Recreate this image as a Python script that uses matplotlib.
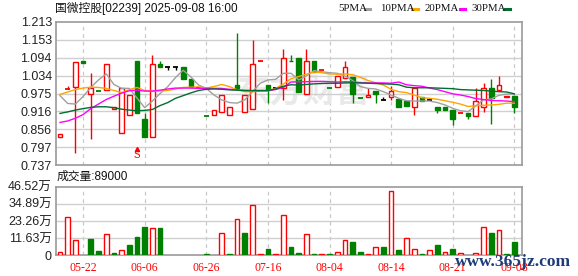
import matplotlib
matplotlib.use('Agg')
import matplotlib.pyplot as plt
from matplotlib.patches import Rectangle
from matplotlib.lines import Line2D

plt.rcParams['font.family'] = ['Liberation Sans', 'Noto Sans CJK SC', 'DejaVu Sans']

# daily candles, oldest first (60 trading days)
opens = [0.832, 0.990, 0.996, 1.083, 0.973, 0.984, 0.985, 0.924, 0.843, 0.904,
         1.083, 0.891, 0.832, 1.074, 1.062, 1.062, 1.063, 1.022, 0.992, 0.900,
         0.903, 0.914, 0.904, 1.002, 0.913, 0.922, 1.082, 1.002, 0.992, 0.992,
         1.084, 1.092, 0.972, 1.083, 1.052, 0.992, 0.995, 1.025, 1.030, 0.959,
         0.962, 0.983, 0.953, 0.962, 0.958, 0.951, 0.931, 0.962, 0.953, 0.929,
         0.929, 0.920, 0.909, 0.909, 0.902, 0.930, 0.992, 0.986, 0.962, 0.968]
highs = [0.840, 1.001, 1.081, 1.083, 1.043, 0.984, 1.073, 0.930, 0.993, 0.970,
         1.083, 0.910, 1.103, 1.082, 1.062, 1.062, 1.063, 1.022, 0.992, 0.900,
         0.919, 0.969, 0.929, 1.174, 0.969, 1.152, 1.082, 1.002, 0.992, 1.122,
         1.103, 1.092, 1.121, 1.083, 1.052, 0.992, 1.033, 1.082, 1.030, 0.959,
         0.992, 0.983, 0.964, 1.001, 0.958, 0.951, 0.992, 0.962, 0.953, 0.929,
         0.929, 0.920, 0.909, 0.909, 0.992, 1.010, 1.022, 1.033, 0.968, 0.968]
lows = [0.832, 0.990, 0.779, 1.075, 0.823, 0.984, 0.985, 0.924, 0.843, 0.904,
        0.912, 0.832, 0.832, 1.062, 1.053, 1.053, 1.023, 0.997, 0.992, 0.900,
        0.903, 0.914, 0.904, 0.994, 0.913, 0.922, 1.082, 0.942, 0.992, 0.954,
        1.083, 0.980, 0.972, 1.047, 1.052, 0.992, 0.995, 1.025, 0.943, 0.959,
        0.962, 0.943, 0.953, 0.954, 0.930, 0.932, 0.903, 0.951, 0.953, 0.912,
        0.921, 0.871, 0.909, 0.892, 0.902, 0.915, 0.873, 0.986, 0.962, 0.912]
closes = [0.840, 0.990, 1.081, 1.075, 0.994, 0.984, 1.073, 0.930, 0.993, 0.970,
          0.912, 0.832, 1.072, 1.062, 1.062, 1.062, 1.023, 0.997, 0.992, 0.900,
          0.919, 0.969, 0.929, 0.994, 0.969, 1.072, 1.082, 0.991, 0.992, 1.092,
          1.083, 0.980, 1.083, 1.047, 1.052, 0.992, 1.033, 1.062, 0.973, 0.959,
          0.969, 0.972, 0.953, 0.983, 0.930, 0.932, 0.992, 0.951, 0.953, 0.919,
          0.921, 0.892, 0.909, 0.902, 0.950, 0.992, 0.961, 1.002, 0.968, 0.931]
# volume in 万 shares
volumes = [2.0, 25.9, 10.7, 0, 10.9, 2.7, 14.3, 1.6, 3.4, 6.8,
           12.2, 19.0, 18.4, 18.4, 0, 0, 0, 0, 0, 0.7,
           0, 15.4, 0.7, 24.3, 15.4, 33.8, 0.7, 4.5, 0.7, 27.2,
           5.4, 1.4, 14.7, 0.7, 0.7, 0.7, 2.0, 10.7, 8.8, 2.0,
           0.7, 5.9, 5.4, 43.3, 3.4, 12.0, 4.5, 0.7, 3.9, 6.8,
           2.0, 4.1, 1.4, 0, 1.4, 19.0, 15.2, 17.0, 0.7, 8.9]
flat_days = [14, 15, 18, 28, 42, 48]  # drawn black

ma5 = [0.968, 0.942, 0.940, 0.965, 0.995, 1.020, 1.040, 1.005, 0.992, 0.992,
       0.960, 0.928, 0.950, 0.975, 0.998, 1.028, 1.052, 1.030, 1.003, 0.992,
       0.970, 0.954, 0.945, 0.943, 0.954, 0.981, 1.009, 1.020, 1.022, 1.042,
       1.042, 1.020, 1.033, 1.051, 1.047, 1.044, 1.042, 1.033, 1.018, 0.998,
       0.992, 0.990, 0.981, 0.970, 0.959, 0.951, 0.950, 0.950, 0.950, 0.945,
       0.937, 0.926, 0.918, 0.915, 0.934, 0.954, 0.957, 0.969, 0.973, 0.973]
ma10 = [0.972, 0.980, 0.988, 0.993, 0.996, 0.995, 0.992, 0.985, 0.978, 0.988,
        0.995, 0.985, 0.983, 0.984, 0.985, 0.990, 0.995, 0.996, 0.997, 0.993,
        0.998, 1.005, 0.998, 0.987, 0.981, 0.981, 0.983, 0.984, 0.992, 1.006,
        1.024, 1.031, 1.039, 1.046, 1.044, 1.040, 1.039, 1.040, 1.037, 1.029,
        1.018, 1.011, 1.003, 0.989, 0.981, 0.978, 0.970, 0.961, 0.959, 0.956,
        0.951, 0.946, 0.940, 0.932, 0.934, 0.936, 0.937, 0.939, 0.943, 0.943]
ma20 = [0.879, 0.884, 0.893, 0.905, 0.925, 0.940, 0.955, 0.966, 0.976, 0.984,
        0.986, 0.983, 0.983, 0.986, 0.990, 0.993, 0.993, 0.993, 0.992, 0.992,
        0.992, 0.992, 0.989, 0.987, 0.985, 0.984, 0.984, 0.984, 0.988, 0.995,
        1.013, 1.014, 1.014, 1.015, 1.015, 1.014, 1.013, 1.014, 1.013, 1.011,
        1.010, 1.010, 1.010, 1.009, 1.013, 1.004, 1.001, 0.999, 0.993, 0.988,
        0.981, 0.974, 0.970, 0.965, 0.958, 0.955, 0.952, 0.951, 0.950, 0.948]
ma30 = [0.909, 0.914, 0.920, 0.925, 0.929, 0.931, 0.931, 0.928, 0.923, 0.920,
        0.918, 0.919, 0.922, 0.935, 0.945, 0.959, 0.968, 0.977, 0.985, 0.989,
        0.990, 0.989, 0.987, 0.986, 0.985, 0.985, 0.985, 0.985, 0.990, 0.999,
        1.004, 1.003, 1.005, 1.007, 1.008, 1.009, 1.009, 1.010, 1.011, 1.010,
        1.009, 1.008, 1.007, 1.006, 1.004, 0.996, 0.994, 0.994, 0.994, 0.993,
        0.992, 0.991, 0.988, 0.987, 0.986, 0.985, 0.983, 0.981, 0.980, 0.974]

date_idx = [3, 11, 19, 27, 35, 43, 51, 59]
date_labels = ['05-22', '06-06', '06-26', '07-16', '08-04', '08-14', '08-21', '09-08']
price_ticks = [0.737, 0.797, 0.856, 0.916, 0.975, 1.034, 1.094, 1.153, 1.213]
price_labels = ['0.737', '0.797', '0.856', '0.916', '0.975', '1.034', '1.094', '1.153', '1.213']
vol_ticks = [0, 11.63, 23.26, 34.89, 46.52]
vol_labels = ['0', '11.63万', '23.26万', '34.89万', '46.52万']
signal_day = 10

RED = '#ff0000'
GREEN = '#008000'
BLACK = '#000000'
W, H = 578.0, 276.0

fig = plt.figure(figsize=(5.78, 2.76), dpi=100)
ax1 = fig.add_axes([56 / W, 1 - 165.3 / H, 466 / W, 143.6 / H])
ax2 = fig.add_axes([56 / W, 1 - 255.3 / H, 466 / W, 68.6 / H])

n = len(closes)
for ax in (ax1, ax2):
    ax.set_xlim(-0.52, 60.0)
    for s in ax.spines.values():
        s.set_color('#9a9a9a')
        s.set_linewidth(1.2)
    ax.tick_params(length=0, labelsize=9, colors='#222222')
    for d in date_idx:
        ax.axvline(d, color='#c8c8c8', lw=0.9, ls=(0, (3, 3)), zorder=0)

# faint watermark
ax1.text(0.53, 0.5, '东方财富', transform=ax1.transAxes, fontsize=24,
         color='#e9e9e9', ha='center', va='center', zorder=0,
         family=['Noto Sans CJK SC'], fontweight='bold')

# price panel
ax1.set_ylim(0.737, 1.213)
ax1.set_yticks(price_ticks)
ax1.set_yticklabels(price_labels)
ax1.set_xticks([])
ax1.tick_params(axis='y', pad=3)
for t in price_ticks[1:-1]:
    ax1.axhline(t, color='#d0d0d0', lw=1, zorder=0)

for i in range(n):
    o, h, l, c = opens[i], highs[i], lows[i], closes[i]
    if c > o:
        col = RED
    elif c < o:
        col = GREEN
    elif i in flat_days:
        col = BLACK
    elif i > 0 and c < closes[i - 1]:
        col = GREEN
    else:
        col = RED
    ax1.vlines(i, l, h, color=col, lw=1, zorder=2)
    if c != o:
        face = 'white' if col == RED else col
        ax1.add_patch(Rectangle((i - 0.3, min(o, c)), 0.6, abs(c - o),
                                facecolor=face, edgecolor=col, lw=1, zorder=3))
    else:
        ax1.hlines(c, i - 0.33, i + 0.33, color=col, lw=1.3, zorder=3)

x = list(range(n))
ax1.plot(x, ma5, color='#a0a0a0', lw=1, zorder=4)
ax1.plot(x, ma10, color='#ffa500', lw=1, zorder=4)
ax1.plot(x, ma20, color='#ff00ff', lw=1, zorder=4)
ax1.plot(x, ma30, color='#006e2e', lw=1, zorder=4)

# buy/sell marker
ax1.plot(signal_day, 0.792, marker='^', ms=3, color=RED, clip_on=False, zorder=5)
ax1.text(signal_day, 0.772, 'S', color=RED, fontsize=7, ha='center', va='center', zorder=5)

# volume panel
ax2.set_ylim(0, 46.52)
ax2.set_yticks(vol_ticks)
ax2.set_yticklabels(vol_labels)
ax2.tick_params(axis='y', pad=3)
for t in vol_ticks[1:-1]:
    ax2.axhline(t, color='#d0d0d0', lw=1, zorder=0)
for i in range(n):
    if volumes[i] <= 0:
        continue
    up = i == 0 or closes[i] >= closes[i - 1]
    col = RED if up else GREEN
    ax2.bar(i, volumes[i], width=0.6, facecolor='white' if up else col,
            edgecolor=col, lw=1, zorder=3)
ax2.set_xticks(date_idx)
ax2.set_xticklabels(date_labels, color=RED, family=['Liberation Serif'], fontsize=8.5)
ax2.tick_params(axis='x', pad=5)

# header texts
fig.text(55 / W, 1 - 8.5 / H, '国微控股[02239] 2025-09-08 16:00', fontsize=8.5,
         va='center', ha='left', color='#111111')
fig.text(57 / W, 1 - 176.5 / H, '成交量:%d' % round(volumes[-1] * 10000), fontsize=8.5,
         va='center', ha='left', color='#111111')

legend_items = [('5PMA', '#a0a0a0', 338, 365, 370),
                ('10PMA', '#ffa500', 380, 412, 418),
                ('20PMA', '#ff00ff', 425, 460, 465),
                ('30PMA', '#006e2e', 471, 505, 510)]
for name, col, tx, l0, l1 in legend_items:
    fig.text(tx / W, 1 - 8.5 / H, name, fontsize=7.8, va='center', ha='left',
             family=['Liberation Serif'], color='#111111')
    fig.add_artist(Line2D([l0 / W, l1 / W], [1 - 9 / H, 1 - 9 / H], color=col, lw=2.2))

# site watermark
fig.text(455 / W, 1 - 262 / H, 'www.365jz.com', fontsize=12.5, va='center', ha='left',
         family=['Liberation Serif'], color='#1f3c78', fontweight='bold')

fig.savefig('out.png', dpi=100)
